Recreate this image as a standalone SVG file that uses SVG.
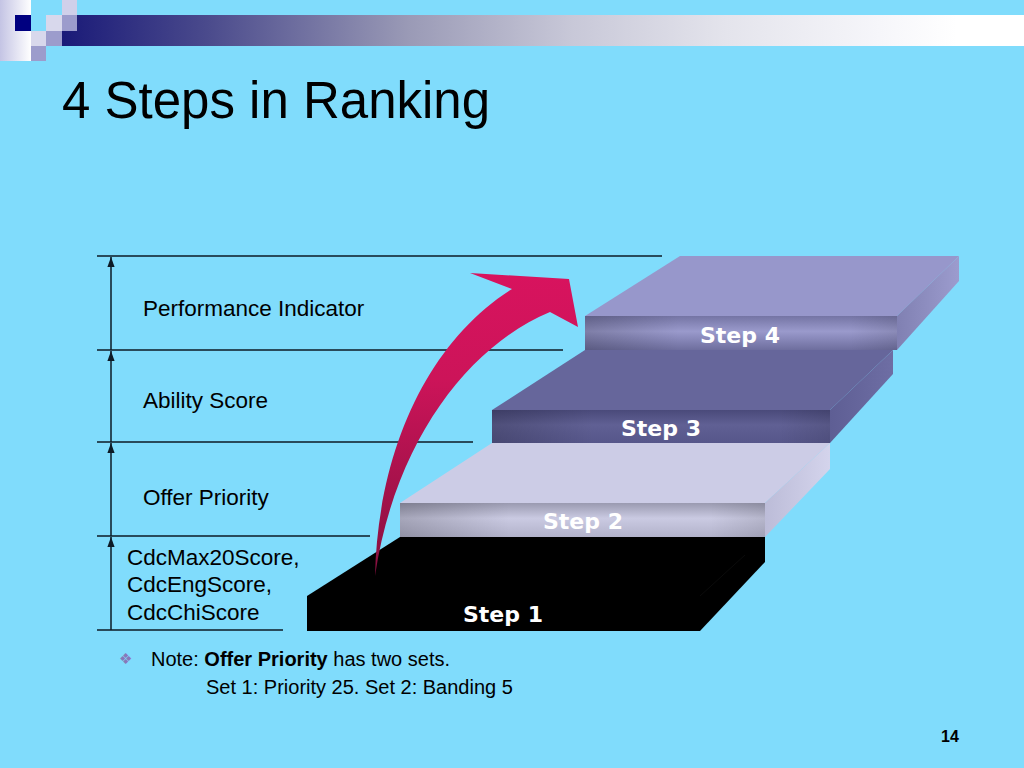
<svg xmlns="http://www.w3.org/2000/svg" width="1024" height="768" viewBox="0 0 1024 768">
<defs>
<style>
.lbl{font-family:"Liberation Sans",Arial,sans-serif;font-size:22.5px;fill:#000;}
.step{font-family:"DejaVu Sans",Verdana,sans-serif;font-weight:bold;font-size:22px;fill:#fff;text-anchor:middle;}
.guide{stroke:#0d1b26;stroke-width:1.5;fill:none;}
.axis{stroke:#0d1b26;stroke-width:1.5;fill:none;marker-end:url(#ah);}
.note{font-family:"Liberation Sans",Arial,sans-serif;font-size:20px;fill:#000;}
</style>
<marker id="ah" markerUnits="userSpaceOnUse" markerWidth="10" markerHeight="8" viewBox="0 -4 10 8" refX="10" refY="0" orient="auto">
<path d="M0,-3.6 L10,0 L0,3.6 Z" fill="#0d1b26"/>
</marker>
<linearGradient id="bar" gradientUnits="userSpaceOnUse" x1="62" y1="0" x2="1024" y2="0">
<stop offset="0" stop-color="#1a1a78"/>
<stop offset="0.15" stop-color="#4a4a8c"/>
<stop offset="0.36" stop-color="#9a9ab6"/>
<stop offset="0.53" stop-color="#c8c8d8"/>
<stop offset="0.69" stop-color="#e4e4ec"/>
<stop offset="0.85" stop-color="#f6f6fa"/>
<stop offset="0.93" stop-color="#ffffff"/>
</linearGradient>
<linearGradient id="corner" x1="0" y1="0" x2="1" y2="0">
<stop offset="0" stop-color="#c4c4e4"/>
<stop offset="1" stop-color="#ffffff"/>
</linearGradient>
<linearGradient id="arrowG" x1="0" y1="0" x2="0" y2="1">
<stop offset="0" stop-color="#d8135e"/>
<stop offset="0.35" stop-color="#cc1459"/>
<stop offset="1" stop-color="#86103f"/>
</linearGradient>
<linearGradient id="s4front" x1="0" y1="0" x2="0" y2="1">
<stop offset="0" stop-color="#7474a4"/>
<stop offset="0.45" stop-color="#9a9acc"/>
<stop offset="1" stop-color="#6e6e9e"/>
</linearGradient>
<linearGradient id="s3front" x1="0" y1="0" x2="0" y2="1">
<stop offset="0" stop-color="#4a4a7a"/>
<stop offset="0.45" stop-color="#606094"/>
<stop offset="1" stop-color="#56568a"/>
</linearGradient>
<linearGradient id="s2front" x1="0" y1="0" x2="0" y2="1">
<stop offset="0" stop-color="#9a9ab0"/>
<stop offset="0.45" stop-color="#cacae2"/>
<stop offset="1" stop-color="#b2b2ca"/>
</linearGradient>
<linearGradient id="leftShade" x1="0" y1="0" x2="1" y2="0">
<stop offset="0" stop-color="#000" stop-opacity="0.18"/>
<stop offset="0.3" stop-color="#000" stop-opacity="0"/>
<stop offset="0.85" stop-color="#000" stop-opacity="0"/>
<stop offset="1" stop-color="#000" stop-opacity="0.1"/>
</linearGradient>
<linearGradient id="s4side" x1="0" y1="0" x2="1" y2="0">
<stop offset="0" stop-color="#8080b2"/>
<stop offset="1" stop-color="#9c9cce"/>
</linearGradient>
<linearGradient id="s3side" x1="0" y1="0" x2="1" y2="0">
<stop offset="0" stop-color="#5e5e94"/>
<stop offset="1" stop-color="#6e6ea4"/>
</linearGradient>
<linearGradient id="s2side" x1="0" y1="0" x2="1" y2="0">
<stop offset="0" stop-color="#bcbcd8"/>
<stop offset="1" stop-color="#d4d4ec"/>
</linearGradient>
</defs>

<rect x="0" y="0" width="1024" height="768" fill="#80dcfc"/>

<g id="header-decor">
<rect x="0" y="0" width="31" height="61" fill="url(#corner)"/>
<rect x="15" y="15" width="16" height="16" fill="#000080"/>
<rect x="62" y="15" width="962" height="31" fill="url(#bar)"/>
<rect x="62" y="0" width="15" height="15" fill="#d0d0ea"/>
<rect x="46" y="15" width="16" height="16" fill="#d8d8ec"/>
<rect x="62" y="15" width="15" height="16" fill="#9c9ccc"/>
<rect x="31" y="31" width="15" height="15" fill="#d8d8ec"/>
<rect x="46" y="31" width="16" height="15" fill="#9c9ccc"/>
<rect x="31" y="46" width="15" height="15" fill="#9c9ccc"/>
</g>

<text id="title" x="62" y="118" font-family="Liberation Sans, Arial, sans-serif" font-size="51" fill="#000">4 Steps in Ranking</text>

<g id="guides">
<line class="guide" x1="97" y1="256" x2="662" y2="256"/>
<line class="guide" x1="97" y1="350" x2="563" y2="350"/>
<line class="guide" x1="97" y1="442" x2="473" y2="442"/>
<line class="guide" x1="97" y1="536" x2="370" y2="536"/>
<line class="guide" x1="97" y1="630" x2="283" y2="630"/>
</g>

<g id="connectors">
<line class="axis" x1="111" y1="630" x2="111" y2="537"/>
<line class="axis" x1="111" y1="536" x2="111" y2="443"/>
<line class="axis" x1="111" y1="442" x2="111" y2="351"/>
<line class="axis" x1="111" y1="350" x2="111" y2="257"/>
</g>

<g id="level-labels">
<text class="lbl" x="143" y="316">Performance Indicator</text>
<text class="lbl" x="143" y="408">Ability Score</text>
<text class="lbl" x="143" y="505">Offer Priority</text>
<text class="lbl" x="127" y="565">CdcMax20Score,</text>
<text class="lbl" x="127" y="592">CdcEngScore,</text>
<text class="lbl" x="127" y="620">CdcChiScore</text>
</g>

<g id="step4">
<polygon points="585,316 680,256 959,256 897,316" fill="#9797cb"/>
<polygon points="897,316 959,256 959,281 897,350" fill="url(#s4side)"/>
<rect x="585" y="316" width="312" height="34" fill="url(#s4front)"/>
<rect x="585" y="316" width="312" height="34" fill="url(#leftShade)"/>
<text class="step" x="740" y="343">Step 4</text>
</g>

<g id="step3">
<polygon points="492,410 585,350 893,350 830,410" fill="#66669b"/>
<polygon points="830,410 893,350 893,374 830,443" fill="url(#s3side)"/>
<rect x="492" y="410" width="338" height="33" fill="url(#s3front)"/>
<rect x="492" y="410" width="338" height="33" fill="url(#leftShade)"/>
<text class="step" x="661" y="436">Step 3</text>
</g>

<g id="step2">
<polygon points="400,503 492,443 830,443 765,503" fill="#cccce6"/>
<polygon points="765,503 830,443 830,469 765,537" fill="url(#s2side)"/>
<rect x="400" y="503" width="365" height="34" fill="url(#s2front)"/>
<rect x="400" y="503" width="365" height="34" fill="url(#leftShade)"/>
<text class="step" x="583" y="529" fill="#f4f4ff">Step 2</text>
</g>

<g id="step1">
<polygon points="307,596 400,537 765,537 765,562 700,631 307,631" fill="#000"/>
<line x1="700" y1="596" x2="745" y2="555" stroke="#161616" stroke-width="0.5"/>
<text class="step" x="503" y="622">Step 1</text>
</g>

<g id="rise-arrow">
<path d="M375,576 C378,450 428,342 512,289 L470,273 L569,279 L578,327 L550,312 C470,345 395,440 375,576 Z" fill="url(#arrowG)"/>
</g>

<g id="note">
<text x="119" y="664" font-family="DejaVu Sans, sans-serif" font-size="15" fill="#8878b8">❖</text>
<text class="note" x="151" y="666">Note: <tspan font-weight="bold">Offer Priority</tspan> has two sets.</text>
<text class="note" x="206" y="694">Set 1: Priority 25. Set 2: Banding 5</text>
</g>

<text id="page-number" x="941" y="742" font-family="Liberation Sans, Arial, sans-serif" font-size="16" font-weight="bold" fill="#000">14</text>
</svg>
